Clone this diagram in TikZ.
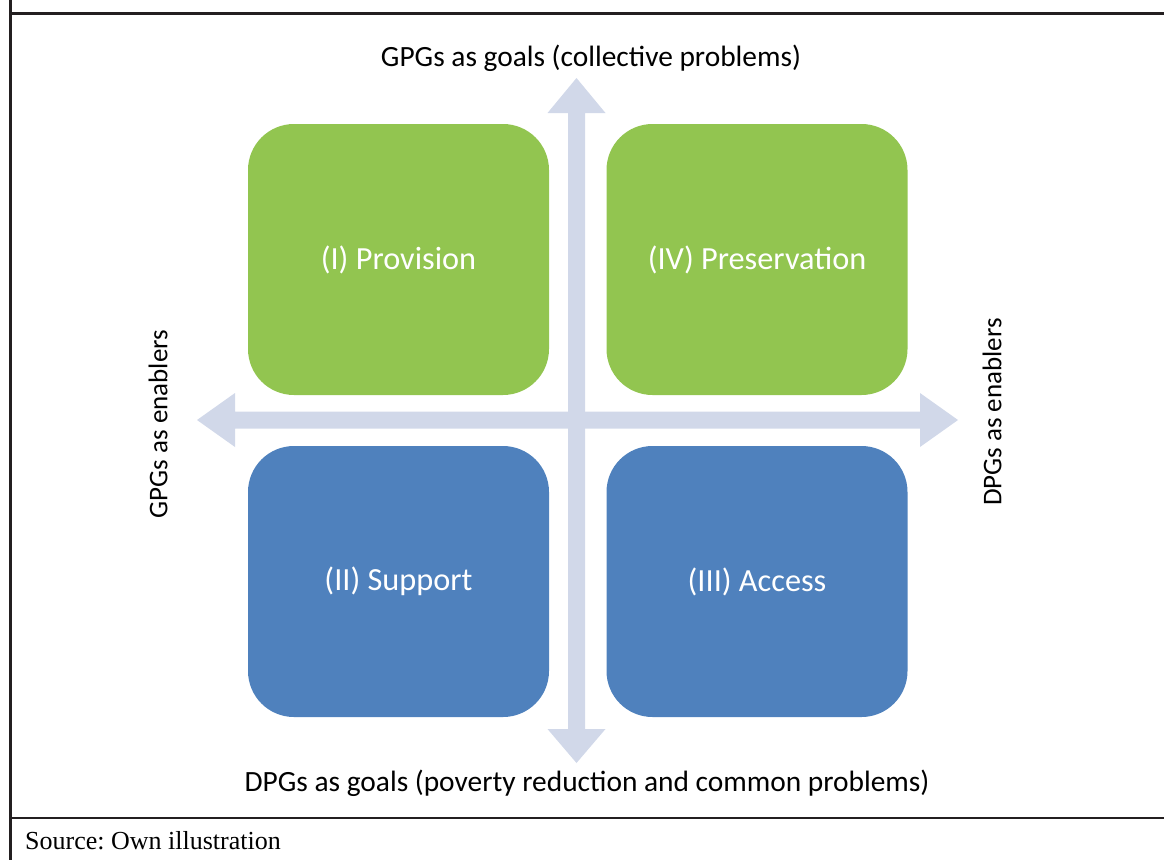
\documentclass[tikz,border=0pt]{standalone}
\usepackage{fontspec}
\setmainfont{Carlito}
\newfontfamily\srcfont{Liberation Serif}
\definecolor{boxgreen}{HTML}{92C550}
\definecolor{boxblue}{HTML}{4F81BD}
\definecolor{axiscol}{HTML}{D1D8E9}
\definecolor{framecol}{HTML}{231F20}
\frenchspacing
\begin{document}
\begin{tikzpicture}[x=1pt,y=-1pt,
  quad/.style={rounded corners=46pt, minimum width=301pt, minimum height=271pt, inner sep=0pt, text=white, font=\fontsize{32.3}{36}\selectfont},
  greenq/.style={quad, fill=boxgreen},
  blueq/.style={quad, fill=boxblue},
  axislabel/.style={inner sep=0pt, font=\fontsize{29.4}{32}\selectfont},
  sidelabel/.style={inner sep=0pt, font=\fontsize{27}{32}\selectfont, rotate=90},
  frameline/.style={draw=framecol, line width=2.2pt},
  axisfill/.style={fill=axiscol, draw=none}]
\useasboundingbox (0,0) rectangle (1164,860);
% frame
\draw[frameline] (10.5,0) -- (10.5,860);
\draw[frameline] (10.5,13.5) -- (1164,13.5);
\draw[frameline] (10.5,818) -- (1164,818);
% axes
\coordinate (vc) at (576.5,420);
\fill[axisfill] (568,113) -- (547.5,113) -- (576.5,78) -- (605.5,113) -- (585,113)
  -- (585,729) -- (605.5,729) -- (576.5,763) -- (547.5,729) -- (568,729) -- cycle;
\fill[axisfill] (235,411.5) -- (235,393) -- (197,420) -- (235,447) -- (235,428.5)
  -- (920,428.5) -- (920,447) -- (958,420) -- (920,393) -- (920,411.5) -- cycle;
% quadrants
\node[greenq] (prov) at (398.5,259.5) {(I) Provision};
\node[greenq] (pres) at (757,259.5) {(IV) Preservation};
\node[blueq] (supp) at (398.5,581.5) {(II) Support};
\node[blueq] (acc) at (757,581.5) {(III) Access};
% labels
\node[axislabel] (top) at (591,58) {GPGs as goals (collective problems)};
\node[axislabel] (bot) at (587,783) {DPGs as goals (poverty reduction and common problems)};
\node[sidelabel] (left) at (158,424) {GPGs as enablers};
\node[sidelabel] (right) at (992,412) {DPGs as enablers};
\node[anchor=base west, inner sep=0pt, font=\srcfont\fontsize{26}{30}\selectfont] (src) at (25,849) {Source: Own illustration};
\end{tikzpicture}
\end{document}
